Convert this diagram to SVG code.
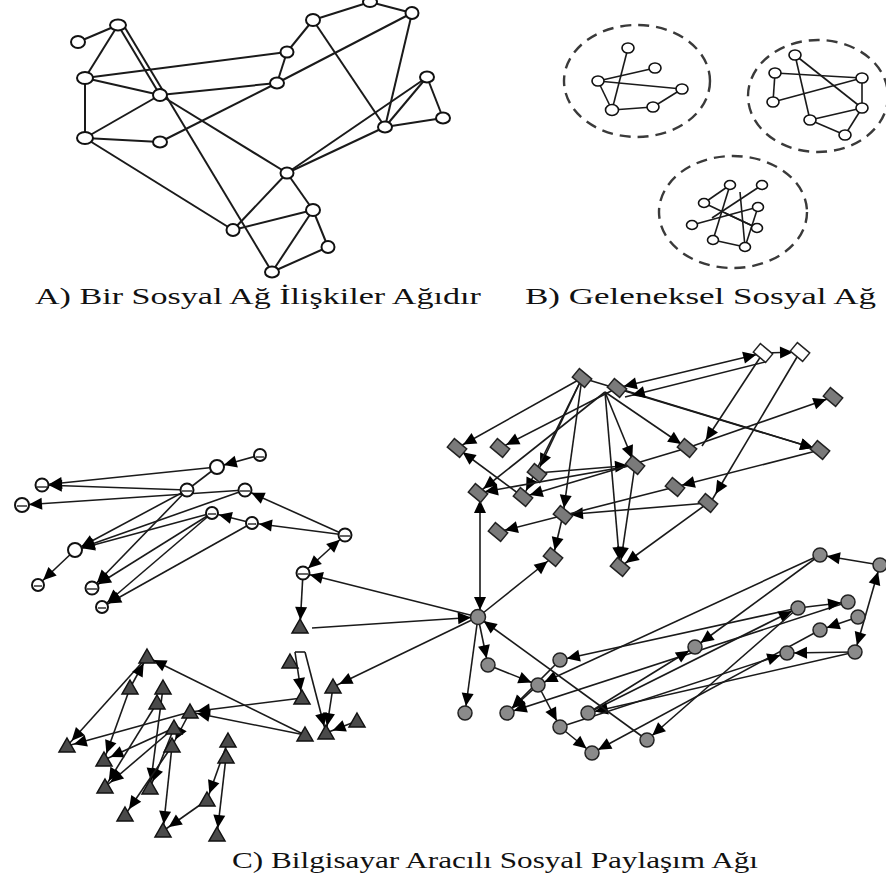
<svg xmlns="http://www.w3.org/2000/svg" xmlns:xlink="http://www.w3.org/1999/xlink" width="886" height="884" viewBox="0 0 886 884">
<style>
.bg{fill:#fff}
.ea{stroke:#1a1a1a;stroke-width:2;fill:none}
.eb{stroke:#1a1a1a;stroke-width:1.6;fill:none}
.ec{stroke:#1a1a1a;stroke-width:1.6;fill:none;marker-end:url(#ah)}
.ec2{stroke:#1a1a1a;stroke-width:1.6;fill:none;marker-end:url(#ah);marker-start:url(#ah)}
.ep{stroke:#1a1a1a;stroke-width:1.6;fill:none}
.na{fill:#fff;stroke:#111;stroke-width:2}
.nb{fill:#fff;stroke:#111;stroke-width:1.6}
.grp{fill:none;stroke:#3a3a3a;stroke-width:2.4;stroke-dasharray:11 7}
.wc{fill:#fff;stroke:#111;stroke-width:2}
.wm{stroke:#111;stroke-width:1.3}
.tri{fill:#4a4a4a;stroke:#111;stroke-width:1.5}
.dia{fill:#7a7a7a;stroke:#222;stroke-width:1.5}
.diaw{fill:#fff;stroke:#222;stroke-width:1.5}
.gc{fill:#8a8a8a;stroke:#222;stroke-width:1.5}
.lbl{font-family:"Liberation Serif","Times New Roman",serif;font-size:24px;fill:#111}
</style>
<defs>
<marker id="ah" markerUnits="userSpaceOnUse" markerWidth="13" markerHeight="12" refX="20" refY="6" orient="auto-start-reverse" overflow="visible">
<path d="M0,0 L13,6 L0,12 Z" fill="#000"/>
</marker>
<path id="tri" d="M0,-8 L8,6 L-8,6 Z"/>
<path id="dia" d="M2.6,9.4 L-9.7,-0.9 L-2.6,-9.4 L9.7,0.9 Z"/>
</defs>
<rect class="bg" x="0" y="0" width="886" height="884"/>

<!-- ===== Panel A ===== -->
<g id="panelA-edges">
<line class="ea" x1="78" y1="42" x2="118" y2="25"/>
<line class="ea" x1="118" y1="25" x2="85" y2="78"/>
<line class="ea" x1="118" y1="25" x2="160" y2="95"/>
<line class="ea" x1="124" y1="26" x2="272" y2="272"/>
<line class="ea" x1="160" y1="95" x2="287" y2="173"/>
<line class="ea" x1="85" y1="78" x2="287" y2="52"/>
<line class="ea" x1="85" y1="78" x2="160" y2="95"/>
<line class="ea" x1="85" y1="78" x2="85" y2="138"/>
<line class="ea" x1="160" y1="95" x2="277" y2="83"/>
<line class="ea" x1="85" y1="138" x2="160" y2="95"/>
<line class="ea" x1="85" y1="138" x2="160" y2="142"/>
<line class="ea" x1="85" y1="138" x2="233" y2="230"/>
<line class="ea" x1="160" y1="142" x2="277" y2="83"/>
<line class="ea" x1="277" y1="83" x2="412" y2="13"/>
<line class="ea" x1="287" y1="52" x2="277" y2="83"/>
<line class="ea" x1="287" y1="52" x2="313" y2="20"/>
<line class="ea" x1="313" y1="20" x2="370" y2="2"/>
<line class="ea" x1="370" y1="2" x2="412" y2="13"/>
<line class="ea" x1="313" y1="20" x2="385" y2="127"/>
<line class="ea" x1="412" y1="13" x2="385" y2="127"/>
<line class="ea" x1="427" y1="77" x2="385" y2="127"/>
<line class="ea" x1="287" y1="173" x2="423" y2="80"/>
<line class="ea" x1="427" y1="77" x2="443" y2="118"/>
<line class="ea" x1="443" y1="118" x2="385" y2="127"/>
<line class="ea" x1="287" y1="173" x2="385" y2="127"/>
<line class="ea" x1="287" y1="173" x2="233" y2="230"/>
<line class="ea" x1="287" y1="173" x2="313" y2="210"/>
<line class="ea" x1="233" y1="230" x2="313" y2="210"/>
<line class="ea" x1="313" y1="210" x2="272" y2="272"/>
<line class="ea" x1="313" y1="210" x2="328" y2="247"/>
<line class="ea" x1="328" y1="247" x2="272" y2="272"/>
</g>
<g id="panelA-nodes">
<ellipse class="na" cx="78" cy="42" rx="7" ry="6"/>
<ellipse class="na" cx="118" cy="25" rx="8" ry="5.5"/>
<ellipse class="na" cx="85" cy="78" rx="8" ry="6"/>
<ellipse class="na" cx="160" cy="95" rx="7" ry="6"/>
<ellipse class="na" cx="85" cy="138" rx="8" ry="6"/>
<ellipse class="na" cx="160" cy="142" rx="7" ry="5.5"/>
<ellipse class="na" cx="287" cy="52" rx="6.5" ry="5.5"/>
<ellipse class="na" cx="277" cy="83" rx="7" ry="5.5"/>
<ellipse class="na" cx="313" cy="20" rx="7" ry="6"/>
<ellipse class="na" cx="370" cy="2" rx="7" ry="5"/>
<ellipse class="na" cx="412" cy="13" rx="6.5" ry="6"/>
<ellipse class="na" cx="427" cy="77" rx="7" ry="5.5"/>
<ellipse class="na" cx="443" cy="118" rx="7" ry="5.5"/>
<ellipse class="na" cx="385" cy="127" rx="7" ry="5.5"/>
<ellipse class="na" cx="287" cy="173" rx="6.5" ry="5.5"/>
<ellipse class="na" cx="313" cy="210" rx="7" ry="6"/>
<ellipse class="na" cx="233" cy="230" rx="6.5" ry="6"/>
<ellipse class="na" cx="328" cy="247" rx="6.5" ry="6"/>
<ellipse class="na" cx="272" cy="272" rx="7" ry="5.5"/>
</g>
<text class="lbl" transform="translate(35,304) scale(1.42,1)">A) Bir Sosyal Ağ İlişkiler Ağıdır</text>

<!-- ===== Panel B ===== -->
<g id="panelB-groups">
<ellipse class="grp" cx="637" cy="81" rx="73" ry="56"/>
<ellipse class="grp" cx="818" cy="96" rx="70" ry="56"/>
<ellipse class="grp" cx="733" cy="212" rx="74" ry="56"/>
</g>
<g id="panelB-edges">
<line class="eb" x1="628" y1="48" x2="612" y2="110"/>
<line class="eb" x1="598" y1="81" x2="655" y2="68"/>
<line class="eb" x1="598" y1="81" x2="682" y2="89"/>
<line class="eb" x1="598" y1="81" x2="612" y2="110"/>
<line class="eb" x1="612" y1="110" x2="653" y2="107"/>
<line class="eb" x1="653" y1="107" x2="682" y2="89"/>
<line class="eb" x1="795" y1="55" x2="810" y2="120"/>
<line class="eb" x1="795" y1="55" x2="862" y2="108"/>
<line class="eb" x1="775" y1="73" x2="862" y2="78"/>
<line class="eb" x1="775" y1="73" x2="773" y2="102"/>
<line class="eb" x1="773" y1="102" x2="862" y2="78"/>
<line class="eb" x1="862" y1="78" x2="862" y2="108"/>
<line class="eb" x1="810" y1="120" x2="862" y2="108"/>
<line class="eb" x1="862" y1="108" x2="845" y2="135"/>
<line class="eb" x1="810" y1="120" x2="845" y2="135"/>
<line class="eb" x1="730" y1="185" x2="713" y2="240"/>
<line class="eb" x1="762" y1="185" x2="712" y2="218"/>
<line class="eb" x1="704" y1="203" x2="757" y2="228"/>
<line class="eb" x1="692" y1="225" x2="758" y2="207"/>
<line class="eb" x1="713" y1="240" x2="745" y2="247"/>
<line class="eb" x1="730" y1="185" x2="704" y2="203"/>
<line class="eb" x1="740" y1="192" x2="745" y2="247"/>
<line class="eb" x1="758" y1="207" x2="745" y2="247"/>
<line class="eb" x1="725" y1="213" x2="757" y2="228"/>
</g>
<g id="panelB-nodes">
<ellipse class="nb" cx="628" cy="48" rx="6" ry="5"/>
<ellipse class="nb" cx="655" cy="68" rx="6" ry="5"/>
<ellipse class="nb" cx="598" cy="81" rx="6" ry="5"/>
<ellipse class="nb" cx="682" cy="89" rx="6" ry="5"/>
<ellipse class="nb" cx="612" cy="110" rx="6.5" ry="5.5"/>
<ellipse class="nb" cx="653" cy="107" rx="6" ry="5"/>
<ellipse class="nb" cx="795" cy="55" rx="6" ry="5"/>
<ellipse class="nb" cx="775" cy="73" rx="6" ry="5"/>
<ellipse class="nb" cx="862" cy="78" rx="6" ry="5"/>
<ellipse class="nb" cx="773" cy="102" rx="6" ry="5"/>
<ellipse class="nb" cx="862" cy="108" rx="6" ry="5"/>
<ellipse class="nb" cx="810" cy="120" rx="6" ry="5"/>
<ellipse class="nb" cx="845" cy="135" rx="6" ry="5"/>
<ellipse class="nb" cx="730" cy="185" rx="5.5" ry="4.5"/>
<ellipse class="nb" cx="762" cy="185" rx="5.5" ry="4.5"/>
<ellipse class="nb" cx="704" cy="203" rx="5.5" ry="4.5"/>
<ellipse class="nb" cx="758" cy="207" rx="5.5" ry="4.5"/>
<ellipse class="nb" cx="692" cy="225" rx="5.5" ry="4.5"/>
<ellipse class="nb" cx="757" cy="228" rx="5.5" ry="4.5"/>
<ellipse class="nb" cx="713" cy="240" rx="5.5" ry="4.5"/>
<ellipse class="nb" cx="745" cy="247" rx="5.5" ry="4.5"/>
</g>
<text class="lbl" transform="translate(525,304) scale(1.46,1)">B) Geleneksel Sosyal Ağ</text>

<!-- ===== Panel C connectors ===== -->
<g id="connectors">
<!-- white circles -->
<line class="ec" x1="260" y1="455" x2="217" y2="467"/>
<line class="ec" x1="217" y1="467" x2="42" y2="485"/>
<line class="ec" x1="187" y1="490" x2="42" y2="485"/>
<line class="ec" x1="245" y1="490" x2="22" y2="505"/>
<line class="ep" x1="217" y1="467" x2="187" y2="490"/>
<line class="ec" x1="187" y1="490" x2="75" y2="550"/>
<line class="ec" x1="245" y1="490" x2="75" y2="550"/>
<line class="ec" x1="212" y1="513" x2="75" y2="550"/>
<line class="ec" x1="187" y1="490" x2="92" y2="588"/>
<line class="ec" x1="212" y1="513" x2="92" y2="588"/>
<line class="ec" x1="212" y1="513" x2="102" y2="607"/>
<line class="ec" x1="252" y1="523" x2="102" y2="607"/>
<line class="ec" x1="75" y1="550" x2="38" y2="585"/>
<line class="ec" x1="252" y1="523" x2="212" y2="513"/>
<line class="ec" x1="345" y1="535" x2="252" y2="523"/>
<line class="ec" x1="345" y1="535" x2="245" y2="490"/>
<line class="ec2" x1="345" y1="535" x2="303" y2="573"/>
<line class="ec" x1="478" y1="617" x2="303" y2="573"/>
<line class="ec" x1="303" y1="573" x2="300" y2="627"/>
<!-- triangles -->
<line class="ec" x1="312" y1="628" x2="478" y2="617"/>
<line class="ec" x1="478" y1="617" x2="333" y2="687"/>
<line class="ec" x1="305" y1="735" x2="147" y2="657"/>
<line class="ec" x1="305" y1="735" x2="190" y2="712"/>
<line class="ec" x1="302" y1="698" x2="190" y2="712"/>
<line class="ec" x1="295" y1="652" x2="302" y2="698"/>
<line class="ec" x1="305" y1="652" x2="326" y2="733"/>
<line class="ep" x1="295" y1="652" x2="305" y2="652"/>
<line class="ec" x1="333" y1="687" x2="326" y2="733"/>
<line class="ec" x1="357" y1="721" x2="326" y2="733"/>
<line class="ec" x1="147" y1="657" x2="67" y2="746"/>
<line class="ec" x1="190" y1="712" x2="67" y2="746"/>
<line class="ec" x1="130" y1="688" x2="147" y2="657"/>
<line class="ec" x1="130" y1="688" x2="104" y2="760"/>
<line class="ec" x1="174" y1="728" x2="104" y2="760"/>
<line class="ec" x1="157" y1="703" x2="105" y2="787"/>
<line class="ec" x1="174" y1="728" x2="105" y2="787"/>
<line class="ec" x1="174" y1="728" x2="150" y2="788"/>
<line class="ec" x1="163" y1="688" x2="150" y2="788"/>
<line class="ec" x1="172" y1="746" x2="125" y2="815"/>
<line class="ec" x1="172" y1="746" x2="163" y2="831"/>
<line class="ec" x1="228" y1="741" x2="207" y2="800"/>
<line class="ec" x1="226" y1="757" x2="217" y2="835"/>
<line class="ec" x1="207" y1="800" x2="163" y2="831"/>
<line class="ec" x1="190" y1="712" x2="172" y2="746"/>
<!-- diamonds -->
<line class="ec" x1="582" y1="378" x2="457" y2="448"/>
<line class="ec" x1="617" y1="388" x2="500" y2="448"/>
<line class="ec" x1="582" y1="378" x2="537" y2="473"/>
<line class="ec" x1="582" y1="378" x2="563" y2="515"/>
<line class="ec" x1="582" y1="378" x2="523" y2="497"/>
<line class="ec" x1="605" y1="392" x2="620" y2="567"/>
<line class="ec" x1="605" y1="392" x2="635" y2="465"/>
<line class="ec" x1="605" y1="392" x2="687" y2="448"/>
<line class="ec" x1="617" y1="388" x2="820" y2="450"/>
<line class="ec" x1="582" y1="378" x2="820" y2="450"/>
<line class="ec2" x1="763" y1="353" x2="617" y2="388"/>
<line class="ec" x1="765" y1="362" x2="625" y2="397"/>
<line class="ec" x1="763" y1="353" x2="800" y2="352"/>
<line class="ec" x1="763" y1="353" x2="702" y2="446"/>
<line class="ec" x1="800" y1="352" x2="712" y2="500"/>
<line class="ec" x1="687" y1="448" x2="833" y2="397"/>
<line class="ec" x1="820" y1="450" x2="675" y2="487"/>
<line class="ec" x1="635" y1="465" x2="478" y2="493"/>
<line class="ec" x1="537" y1="473" x2="635" y2="465"/>
<line class="ec" x1="708" y1="503" x2="563" y2="515"/>
<line class="ec" x1="708" y1="503" x2="620" y2="567"/>
<line class="ec" x1="635" y1="465" x2="620" y2="567"/>
<line class="ec" x1="675" y1="487" x2="498" y2="532"/>
<line class="ec" x1="563" y1="515" x2="553" y2="557"/>
<line class="ec" x1="478" y1="617" x2="553" y2="557"/>
<line class="ec2" x1="480" y1="617" x2="480" y2="493"/>
<line class="ec" x1="523" y1="497" x2="457" y2="448"/>
<line class="ec" x1="605" y1="392" x2="478" y2="493"/>
<line class="ec" x1="687" y1="448" x2="523" y2="497"/>
<!-- gray circles -->
<line class="ec" x1="880" y1="565" x2="820" y2="555"/>
<line class="ec2" x1="880" y1="565" x2="855" y2="652"/>
<line class="ec" x1="855" y1="652" x2="787" y2="653"/>
<line class="ec" x1="820" y1="555" x2="695" y2="647"/>
<line class="ec" x1="820" y1="555" x2="538" y2="685"/>
<line class="ec" x1="798" y1="608" x2="560" y2="660"/>
<line class="ec" x1="588" y1="713" x2="798" y2="608"/>
<line class="ec" x1="855" y1="652" x2="588" y2="713"/>
<line class="ec" x1="848" y1="602" x2="507" y2="713"/>
<line class="ec" x1="588" y1="713" x2="695" y2="647"/>
<line class="ec" x1="820" y1="630" x2="592" y2="753"/>
<line class="ec" x1="798" y1="608" x2="647" y2="740"/>
<line class="ec" x1="798" y1="608" x2="848" y2="602"/>
<line class="ec" x1="858" y1="617" x2="820" y2="630"/>
<line class="ec" x1="560" y1="727" x2="787" y2="653"/>
<line class="ec" x1="478" y1="617" x2="488" y2="665"/>
<line class="ec" x1="478" y1="617" x2="465" y2="713"/>
<line class="ec" x1="647" y1="740" x2="478" y2="617"/>
<line class="ec" x1="488" y1="665" x2="538" y2="685"/>
<line class="ec" x1="538" y1="685" x2="507" y2="713"/>
<line class="ec" x1="538" y1="685" x2="560" y2="727"/>
<line class="ec" x1="560" y1="727" x2="592" y2="753"/>
<line class="ec" x1="560" y1="660" x2="507" y2="713"/>
</g>

<!-- ===== Panel C nodes ===== -->
<g id="nodes-white">
<g id="c1"><circle class="wc" cx="260" cy="455" r="6"/><line class="wm" x1="256" y1="457" x2="264" y2="457"/></g>
<g id="c2"><circle class="wc" cx="217" cy="467" r="7"/></g>
<g id="c3"><circle class="wc" cx="42" cy="485" r="6.5"/><line class="wm" x1="37" y1="487" x2="47" y2="487"/></g>
<g id="c4"><circle class="wc" cx="187" cy="490" r="6.5"/><line class="wm" x1="182" y1="491" x2="192" y2="491"/></g>
<g id="c5"><circle class="wc" cx="245" cy="490" r="6.5"/><line class="wm" x1="240" y1="491" x2="250" y2="491"/></g>
<g id="c6"><circle class="wc" cx="22" cy="505" r="7"/><line class="wm" x1="17" y1="506" x2="27" y2="506"/></g>
<g id="c7"><circle class="wc" cx="212" cy="513" r="6"/><line class="wm" x1="208" y1="514" x2="216" y2="514"/></g>
<g id="c8"><circle class="wc" cx="252" cy="523" r="6"/><line class="wm" x1="248" y1="524" x2="256" y2="524"/></g>
<g id="c9"><circle class="wc" cx="345" cy="535" r="6.5"/><line class="wm" x1="340" y1="536" x2="350" y2="536"/></g>
<g id="c10"><circle class="wc" cx="75" cy="550" r="7"/></g>
<g id="c11"><circle class="wc" cx="303" cy="573" r="6.5"/><line class="wm" x1="298" y1="574" x2="308" y2="574"/></g>
<g id="c12"><circle class="wc" cx="38" cy="585" r="6"/><line class="wm" x1="34" y1="586" x2="42" y2="586"/></g>
<g id="c13"><circle class="wc" cx="92" cy="588" r="6.5"/><line class="wm" x1="87" y1="589" x2="97" y2="589"/></g>
<g id="c14"><circle class="wc" cx="102" cy="607" r="6"/><line class="wm" x1="98" y1="608" x2="106" y2="608"/></g>
</g>

<g id="nodes-tri">
<use id="R1" class="tri" xlink:href="#tri" x="300" y="627"/>
<use id="R2" class="tri" xlink:href="#tri" x="290" y="662"/>
<use id="R3" class="tri" xlink:href="#tri" x="333" y="687"/>
<use id="R4" class="tri" xlink:href="#tri" x="302" y="698"/>
<use id="R5" class="tri" xlink:href="#tri" x="357" y="721"/>
<use id="R6" class="tri" xlink:href="#tri" x="305" y="735"/>
<use id="R7" class="tri" xlink:href="#tri" x="326" y="733"/>
<use id="T1" class="tri" xlink:href="#tri" x="147" y="657"/>
<use id="T2" class="tri" xlink:href="#tri" x="130" y="688"/>
<use id="T3" class="tri" xlink:href="#tri" x="163" y="688"/>
<use id="T4" class="tri" xlink:href="#tri" x="157" y="703"/>
<use id="T5" class="tri" xlink:href="#tri" x="190" y="712"/>
<use id="T6" class="tri" xlink:href="#tri" x="174" y="728"/>
<use id="T7" class="tri" xlink:href="#tri" x="67" y="746"/>
<use id="T8" class="tri" xlink:href="#tri" x="104" y="760"/>
<use id="T9" class="tri" xlink:href="#tri" x="172" y="746"/>
<use id="T10" class="tri" xlink:href="#tri" x="228" y="741"/>
<use id="T11" class="tri" xlink:href="#tri" x="226" y="757"/>
<use id="T12" class="tri" xlink:href="#tri" x="105" y="787"/>
<use id="T13" class="tri" xlink:href="#tri" x="150" y="788"/>
<use id="T14" class="tri" xlink:href="#tri" x="125" y="815"/>
<use id="T15" class="tri" xlink:href="#tri" x="207" y="800"/>
<use id="T16" class="tri" xlink:href="#tri" x="163" y="831"/>
<use id="T17" class="tri" xlink:href="#tri" x="217" y="835"/>
</g>

<g id="nodes-dia">
<use id="W1" class="diaw" xlink:href="#dia" x="763" y="353"/>
<use id="W2" class="diaw" xlink:href="#dia" x="800" y="352"/>
<use id="D3" class="dia" xlink:href="#dia" x="582" y="378"/>
<use id="D4" class="dia" xlink:href="#dia" x="617" y="388"/>
<use id="D5" class="dia" xlink:href="#dia" x="833" y="397"/>
<use id="D6" class="dia" xlink:href="#dia" x="457" y="448"/>
<use id="D7" class="dia" xlink:href="#dia" x="500" y="448"/>
<use id="D8" class="dia" xlink:href="#dia" x="687" y="448"/>
<use id="D9" class="dia" xlink:href="#dia" x="820" y="450"/>
<use id="D10" class="dia" xlink:href="#dia" x="635" y="465"/>
<use id="D11" class="dia" xlink:href="#dia" x="537" y="473"/>
<use id="D12" class="dia" xlink:href="#dia" x="675" y="487"/>
<use id="D13" class="dia" xlink:href="#dia" x="478" y="493"/>
<use id="D14" class="dia" xlink:href="#dia" x="523" y="497"/>
<use id="D15" class="dia" xlink:href="#dia" x="708" y="503"/>
<use id="D16" class="dia" xlink:href="#dia" x="563" y="515"/>
<use id="D17" class="dia" xlink:href="#dia" x="498" y="532"/>
<use id="D18" class="dia" xlink:href="#dia" x="553" y="557"/>
<use id="D19" class="dia" xlink:href="#dia" x="620" y="567"/>
</g>

<g id="nodes-gray">
<circle id="hub" class="gc" cx="478" cy="617" r="7.5"/>
<circle id="G1" class="gc" cx="820" cy="555" r="7"/>
<circle id="G2" class="gc" cx="880" cy="565" r="7"/>
<circle id="G3" class="gc" cx="848" cy="602" r="7"/>
<circle id="G4" class="gc" cx="798" cy="608" r="7"/>
<circle id="G5" class="gc" cx="858" cy="617" r="7"/>
<circle id="G6" class="gc" cx="820" cy="630" r="7"/>
<circle id="G7" class="gc" cx="695" cy="647" r="7"/>
<circle id="G8" class="gc" cx="787" cy="653" r="7"/>
<circle id="G9" class="gc" cx="855" cy="652" r="7"/>
<circle id="g10" class="gc" cx="560" cy="660" r="7"/>
<circle id="g11" class="gc" cx="488" cy="665" r="7"/>
<circle id="g12" class="gc" cx="538" cy="685" r="7"/>
<circle id="g13" class="gc" cx="465" cy="713" r="7"/>
<circle id="g14" class="gc" cx="507" cy="713" r="7"/>
<circle id="g15" class="gc" cx="588" cy="713" r="7"/>
<circle id="g16" class="gc" cx="560" cy="727" r="7"/>
<circle id="g17" class="gc" cx="647" cy="740" r="7"/>
<circle id="g18" class="gc" cx="592" cy="753" r="7"/>
</g>

<text class="lbl" transform="translate(232,868) scale(1.3,1)">C) Bilgisayar Aracılı Sosyal Paylaşım Ağı</text>
</svg>
